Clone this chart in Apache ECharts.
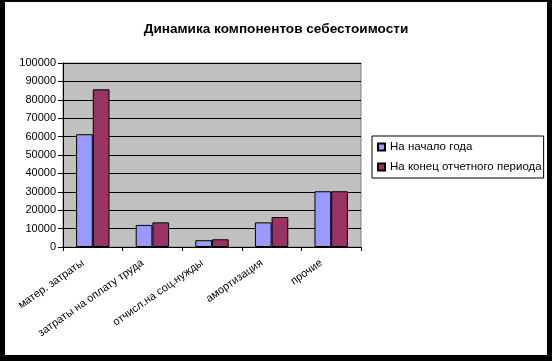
<!DOCTYPE html>
<html>
<head>
<meta charset="utf-8">
<script src="https://cdn.jsdelivr.net/npm/echarts@6/dist/echarts.min.js"></script>
<style>
html,body{margin:0;padding:0;background:#000;width:552px;height:361px;overflow:hidden;}
#c{position:absolute;left:5px;top:2px;width:542px;height:353px;background:#fff;}
</style>
</head>
<body>
<div id="c"></div>
<script>
const titleText = 'Динамика компонентов себестоимости';
const categories = ['матер. затраты', 'затраты на оплату труда', 'отчисл.на соц.нужды', 'амортизация', 'прочие'];
const seriesNames = ['На начало года', 'На конец отчетного периода'];
const startValues = [61300, 12000, 3700, 13400, 30300];
const endValues = [85700, 13400, 4200, 16300, 30300];
const colors = ['#9999FF', '#993366'];

const font = "'Liberation Sans', Arial, sans-serif";
const chart = echarts.init(document.getElementById('c'), null, {renderer: 'canvas'});
chart.setOption({
  animation: false,
  title: {
    text: titleText, left: 'center', top: 15,
    textStyle: {fontFamily: font, fontSize: 13.6, fontWeight: 'bold', color: '#000'}
  },
  legend: {
    orient: 'vertical', left: 367, top: 134,
    padding: [5, 2, 5, 5], itemGap: 8,
    itemWidth: 7, itemHeight: 7, icon: 'rect',
    borderColor: '#000', borderWidth: 1,
    textStyle: {fontFamily: font, fontSize: 11.5, color: '#000'},
    data: seriesNames
  },
  grid: {
    left: 58, top: 61, right: 186, bottom: 108,
    show: true, backgroundColor: '#C0C0C0', borderColor: '#808080', borderWidth: 1
  },
  xAxis: {
    type: 'category', data: categories,
    axisLine: {lineStyle: {color: '#000', width: 1}},
    axisTick: {show: true, length: 4, lineStyle: {color: '#000'}},
    axisLabel: {rotate: 35, fontFamily: font, fontSize: 11, color: '#000', margin: 8, interval: 0,
                padding: [0, 12, 0, 0]}
  },
  yAxis: {
    type: 'value', min: 0, max: 100000, interval: 10000,
    axisLine: {show: true, lineStyle: {color: '#000', width: 1}},
    axisTick: {show: true, length: 5, lineStyle: {color: '#000'}},
    axisLabel: {fontFamily: font, fontSize: 11, color: '#000', margin: 7,
                formatter: function (v) { return String(v); }},
    splitLine: {show: true, lineStyle: {color: '#000', width: 1}}
  },
  series: [
    {name: seriesNames[0], type: 'bar', data: startValues, barGap: '0%', barCategoryGap: '44%',
     itemStyle: {color: colors[0], borderColor: '#000', borderWidth: 1}},
    {name: seriesNames[1], type: 'bar', data: endValues, barGap: '0%', barCategoryGap: '44%',
     itemStyle: {color: colors[1], borderColor: '#000', borderWidth: 1}}
  ]
});
</script>
</body>
</html>
